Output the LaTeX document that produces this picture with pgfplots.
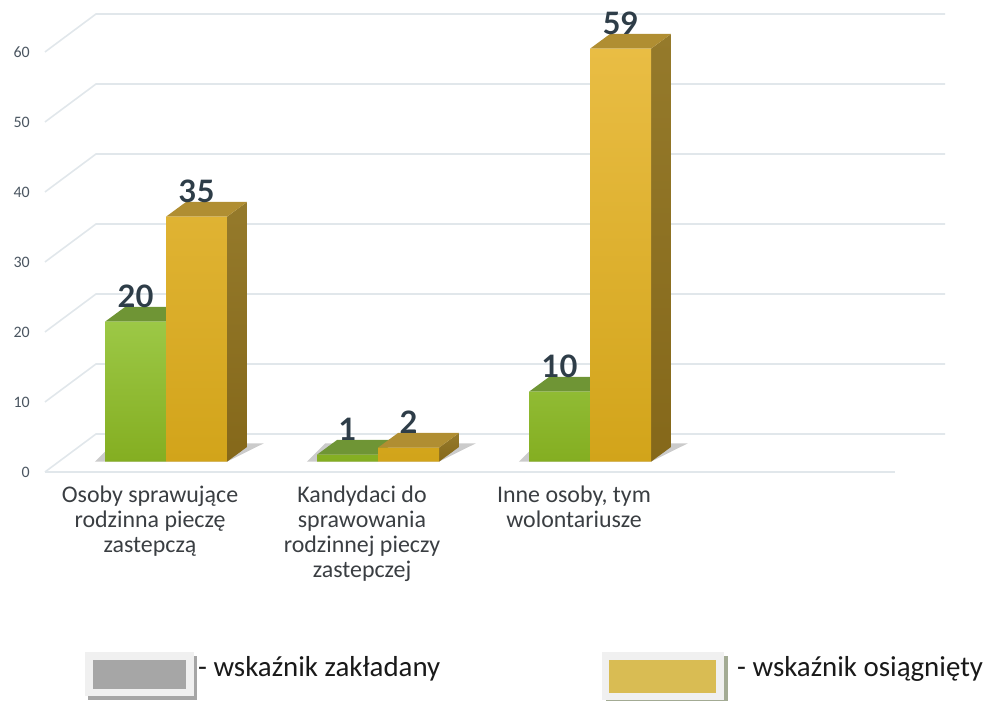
\documentclass[border=0pt]{standalone}
\usepackage{pgfplots}
\pgfplotsset{compat=1.18}
\usepackage{fontspec}
\setmainfont{Carlito}
\newfontfamily\valfont{Lato}
\definecolor{grnA}{HTML}{9CC846}
\definecolor{grnB}{HTML}{84AE21}
\definecolor{grnT}{HTML}{6F9535}
\definecolor{orA}{HTML}{E9BD44}
\definecolor{orB}{HTML}{D2A41A}
\definecolor{orT}{HTML}{B08E32}
\definecolor{orSA}{HTML}{957A2B}
\definecolor{orSB}{HTML}{85681A}
\definecolor{gridc}{HTML}{E1E7EB}
\definecolor{valc}{HTML}{2E3D48}
\definecolor{tickc}{HTML}{4A5560}
\definecolor{catc}{HTML}{3A3E42}
\definecolor{legG}{HTML}{A6A6A6}
\definecolor{legY}{HTML}{D9BC53}
\definecolor{legF}{HTML}{F0F0F0}
\definecolor{legS}{HTML}{A3AB94}
\begin{document}
\begin{tikzpicture}[x=1bp,y=1bp]
\useasboundingbox (0,0) rectangle (990,701);
\begin{axis}[
  at={(60bp,239.3bp)}, anchor=south west,
  scale only axis, width=848bp, height=420bp,
  xmin=-0.5, xmax=3.5, ymin=0, ymax=60,
  clip=false,
  axis line style={draw=none}, major tick length=0pt,
  /pgf/number format/assume math mode=true,
  ytick={0,10,...,60},
  yticklabel style={anchor=east, inner sep=0pt, xshift=-30bp, yshift=-10.3bp,
     font=\fontsize{16}{16}\selectfont, text=tickc},
  xtick={0,1,2},
  xticklabels={{Osoby sprawujące\\rodzinna pieczę\\zastepczą},
               {Kandydaci do\\sprawowania\\rodzinnej pieczy\\zastepczej},
               {Inne osoby, tym\\wolontariusze}},
  xticklabel style={align=center, anchor=north, inner sep=0pt, yshift=-24bp, xshift=-16bp,
     font=\fontsize{24}{25}\selectfont, text=catc},
  legend style={draw=none, fill=none, inner sep=0pt, outer sep=0pt,
     row sep=0pt, column sep=0pt, nodes={inner sep=0pt},
     at={(axis description cs:0.02948,-0.4531)}, anchor=north west,
     font=\fontsize{29}{30}\selectfont, text=black!90},
  legend columns=2,
  legend cell align=left,
]
% grid (floor diagonal + back wall)
\draw[gridc, line width=1.6bp] (axis cs:-0.571,-1.47) -- (axis cs:3.439,-1.47);
\draw[gridc, line width=1.6bp] (axis cs:-0.571,-1.47) -- (axis cs:-0.330,3.96) -- (axis cs:3.675,3.96);
\draw[gridc, line width=1.6bp] (axis cs:-0.571,8.53) -- (axis cs:-0.330,13.96) -- (axis cs:3.675,13.96);
\draw[gridc, line width=1.6bp] (axis cs:-0.571,18.53) -- (axis cs:-0.330,23.96) -- (axis cs:3.675,23.96);
\draw[gridc, line width=1.6bp] (axis cs:-0.571,28.53) -- (axis cs:-0.330,33.96) -- (axis cs:3.675,33.96);
\draw[gridc, line width=1.6bp] (axis cs:-0.571,38.53) -- (axis cs:-0.330,43.96) -- (axis cs:3.675,43.96);
\draw[gridc, line width=1.6bp] (axis cs:-0.571,48.53) -- (axis cs:-0.330,53.96) -- (axis cs:3.675,53.96);
\draw[gridc, line width=1.6bp] (axis cs:-0.571,58.53) -- (axis cs:-0.330,63.96) -- (axis cs:3.675,63.96);

% floor shadows
\addplot[forget plot, fill=black!45, draw=none, opacity=0.45] coordinates {(-0.335,0) (0.2877,0) (0.46,2.6) (-0.25,2.6)} -- cycle;
\addplot[forget plot, fill=black!45, draw=none, opacity=0.45] coordinates {(0.665,0) (1.2877,0) (1.46,2.6) (0.75,2.6)} -- cycle;
\addplot[forget plot, fill=black!45, draw=none, opacity=0.45] coordinates {(1.665,0) (2.2877,0) (2.46,2.6) (1.75,2.6)} -- cycle;

% green tops
\addplot[forget plot, fill=grnT, draw=none] coordinates {(-0.2877,20) (0,20) (0.0943,22.1) (-0.1934,22.1)} -- cycle;
\addplot[forget plot, fill=grnT, draw=none] coordinates {(0.7123,1) (1,1) (1.0943,3.1) (0.8066,3.1)} -- cycle;
\addplot[forget plot, fill=grnT, draw=none] coordinates {(1.7123,10) (2,10) (2.0943,12.1) (1.8066,12.1)} -- cycle;
% green fronts
\addplot[forget plot, ybar, bar width=0.2877, bar shift=-0.14385, draw=none,
   top color=grnA, bottom color=grnB,
   nodes near coords, nodes near coords style={anchor=south, inner sep=0pt, yshift=14bp, xshift=-30.5bp,
   font=\valfont\bfseries\fontsize{31}{31}\selectfont, text=valc}]
   coordinates {(0,20) (1,1) (2,10)};

% orange sides
\addplot[forget plot, top color=orSA, bottom color=orSB, draw=none] coordinates {(0.2877,0) (0.3820,2.1) (0.3820,37.1) (0.2877,35)} -- cycle;
\addplot[forget plot, top color=orSA, bottom color=orSB, draw=none] coordinates {(1.2877,0) (1.3820,2.1) (1.3820,4.1) (1.2877,2)} -- cycle;
\addplot[forget plot, top color=orSA, bottom color=orSB, draw=none] coordinates {(2.2877,0) (2.3820,2.1) (2.3820,61.1) (2.2877,59)} -- cycle;
% orange tops
\addplot[forget plot, fill=orT, draw=none] coordinates {(0,35) (0.2877,35) (0.3820,37.1) (0.0943,37.1)} -- cycle;
\addplot[forget plot, fill=orT, draw=none] coordinates {(1,2) (1.2877,2) (1.3820,4.1) (1.0943,4.1)} -- cycle;
\addplot[forget plot, fill=orT, draw=none] coordinates {(2,59) (2.2877,59) (2.3820,61.1) (2.0943,61.1)} -- cycle;
% orange fronts
\addplot[forget plot, ybar, bar width=0.2877, bar shift=0.14385, draw=none,
   top color=orA, bottom color=orB,
   nodes near coords, nodes near coords style={anchor=south, inner sep=0pt, yshift=14bp, xshift=30.5bp,
   font=\valfont\bfseries\fontsize{31}{31}\selectfont, text=valc}]
   coordinates {(0,35) (1,2) (2,59)};

% legend
\addlegendimage{legend image code/.code={
   \fill[black!35] (3bp,-32bp) rectangle (111bp,11bp);
   \fill[legF] (0bp,-28bp) rectangle (108bp,15bp);
   \fill[legG] (8bp,-21bp) rectangle (100bp,7bp);
   \path[draw=none, fill=none] (0bp,0bp) -- (113bp,0bp);
}}
\addlegendentry{\makebox[246bp][l]{- wskaźnik zakładany}}
\addlegendimage{legend image code/.code={
   \fill[legS] (162bp,-36bp) rectangle (283bp,11bp);
   \fill[legF] (158bp,-32bp) rectangle (279bp,15bp);
   \fill[legY] (165bp,-25bp) rectangle (271bp,7bp);
   \path[draw=none, fill=none] (0bp,0bp) -- (293bp,0bp);
}}
\addlegendentry{- wskaźnik osiągnięty}
\end{axis}
\end{tikzpicture}
\end{document}
